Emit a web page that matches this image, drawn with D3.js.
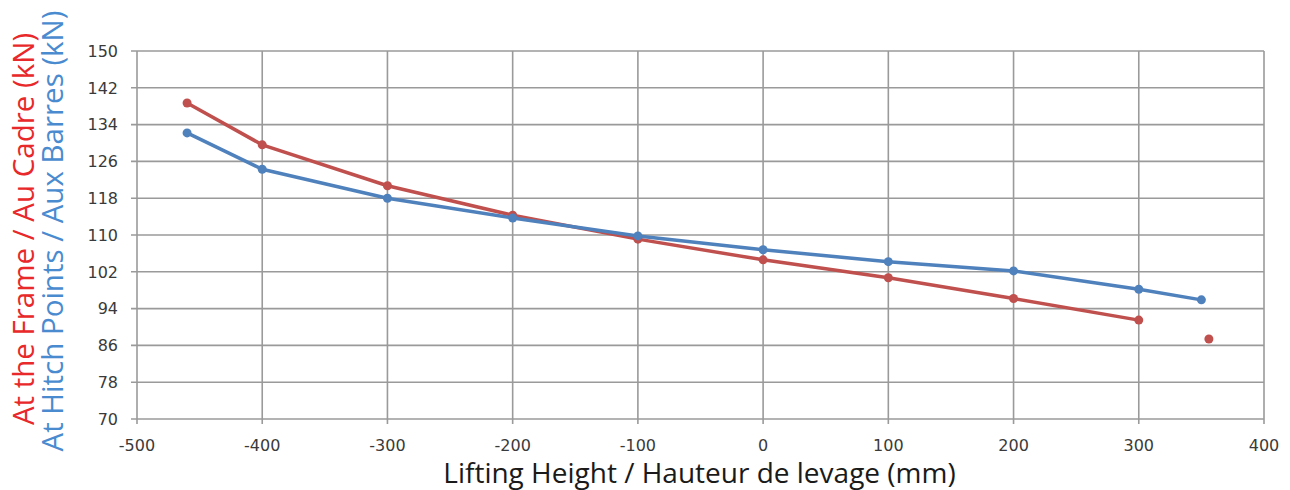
<!DOCTYPE html>
<html>
<head>
<meta charset="utf-8">
<script src="https://cdn.jsdelivr.net/npm/d3@7"></script>
<style>
  body { margin: 0; background: #fff; }
  text { font-family: "Open Sans", sans-serif; }
  .tick_lab { font-family: "DejaVu Sans", sans-serif; }
</style>
</head>
<body>
<div id="chart"></div>
<script>
// lifting height (mm)
var heights = [-460, -400, -300, -200, -100, 0, 100, 200, 300]
var frameLoad = [138.7, 129.6, 120.7, 114.3, 109.1, 104.6, 100.7, 96.2, 91.5]
// lone red point past the end of the line
var frameExtra = [{x: 356, y: 87.4}]

var hitchHeights = [-460, -400, -300, -200, -100, 0, 100, 200, 300, 350]
var hitchLoad = [132.2, 124.3, 118.0, 113.7, 109.8, 106.8, 104.2, 102.2, 98.2, 95.9]

var xTicks = [-500, -400, -300, -200, -100, 0, 100, 200, 300, 400]
var yTicks = [70, 78, 86, 94, 102, 110, 118, 126, 134, 142, 150]

var W = 1290, H = 490
var margin = {top: 51, right: 26, bottom: 71, left: 137}
var width = W - margin.left - margin.right,
    height = H - margin.top - margin.bottom

var red = "#c0504d", blue = "#4f81bd"

var svg = d3.select("#chart").append("svg")
    .attr("width", W)
    .attr("height", H)

var g = svg.append("g")
    .attr("transform", "translate(" + margin.left + "," + margin.top + ")")

var xScale = d3.scaleLinear().domain([-500, 400]).range([0, width])
var yScale = d3.scaleLinear().domain([70, 150]).range([height, 0])

// grid
g.selectAll(".hgrid")
    .data(yTicks)
    .enter().append("line")
    .attr("class", "hgrid")
    .attr("x1", -6)
    .attr("x2", width)
    .attr("y1", function(d){ return yScale(d) })
    .attr("y2", function(d){ return yScale(d) })
    .attr("stroke", "#9a9a9a")
    .attr("stroke-width", 1.6)

g.selectAll(".vgrid")
    .data(xTicks)
    .enter().append("line")
    .attr("class", "vgrid")
    .attr("x1", function(d){ return xScale(d) })
    .attr("x2", function(d){ return xScale(d) })
    .attr("y1", 0)
    .attr("y2", height + 5)
    .attr("stroke", "#9a9a9a")
    .attr("stroke-width", 1.6)

// y tick labels
g.selectAll(".ylab")
    .data(yTicks)
    .enter().append("text")
    .attr("class", "tick_lab")
    .attr("x", -19)
    .attr("y", function(d){ return yScale(d) })
    .attr("dy", "0.36em")
    .attr("text-anchor", "end")
    .attr("font-size", "16px")
    .attr("fill", "#3a3a3a")
    .text(function(d){ return d })

// x tick labels
g.selectAll(".xlab")
    .data(xTicks)
    .enter().append("text")
    .attr("class", "tick_lab")
    .attr("x", function(d){ return xScale(d) })
    .attr("y", height + 32)
    .attr("text-anchor", "middle")
    .attr("font-size", "16px")
    .attr("fill", "#3a3a3a")
    .text(function(d){ return d })

// axis titles
g.append("text")
    .attr("x", width / 2 - 1)
    .attr("y", height + 64)
    .attr("text-anchor", "middle")
    .attr("font-size", "28px")
    .attr("fill", "#1a1a1a")
    .text("Lifting Height / Hauteur de levage (mm)")

svg.append("text")
    .attr("transform", "translate(34,229) rotate(-90)")
    .attr("text-anchor", "middle")
    .attr("font-size", "29.5px")
    .attr("fill", "#e8282a")
    .text("At the Frame / Au Cadre (kN)")

svg.append("text")
    .attr("transform", "translate(63,231) rotate(-90)")
    .attr("text-anchor", "middle")
    .attr("font-size", "29.5px")
    .attr("fill", "#4a8bd0")
    .text("At Hitch Points / Aux Barres (kN)")

// series
var frameData = heights.map(function(h, i){ return {x: h, y: frameLoad[i]} })
var hitchData = hitchHeights.map(function(h, i){ return {x: h, y: hitchLoad[i]} })

var line = d3.line()
    .x(function(d){ return xScale(d.x) })
    .y(function(d){ return yScale(d.y) })

function drawSeries(data, color){
    g.append("path")
        .attr("d", line(data))
        .attr("fill", "none")
        .attr("stroke", color)
        .attr("stroke-width", 3.5)
        .attr("stroke-linejoin", "round")

    g.selectAll(null)
        .data(data)
        .enter().append("circle")
        .attr("cx", function(d){ return xScale(d.x) })
        .attr("cy", function(d){ return yScale(d.y) })
        .attr("r", 4.5)
        .attr("fill", color)
}

drawSeries(frameData, red)
drawSeries(hitchData, blue)

g.selectAll(".extra")
    .data(frameExtra)
    .enter().append("circle")
    .attr("cx", function(d){ return xScale(d.x) })
    .attr("cy", function(d){ return yScale(d.y) })
    .attr("r", 4.5)
    .attr("fill", red)
</script>
</body>
</html>
